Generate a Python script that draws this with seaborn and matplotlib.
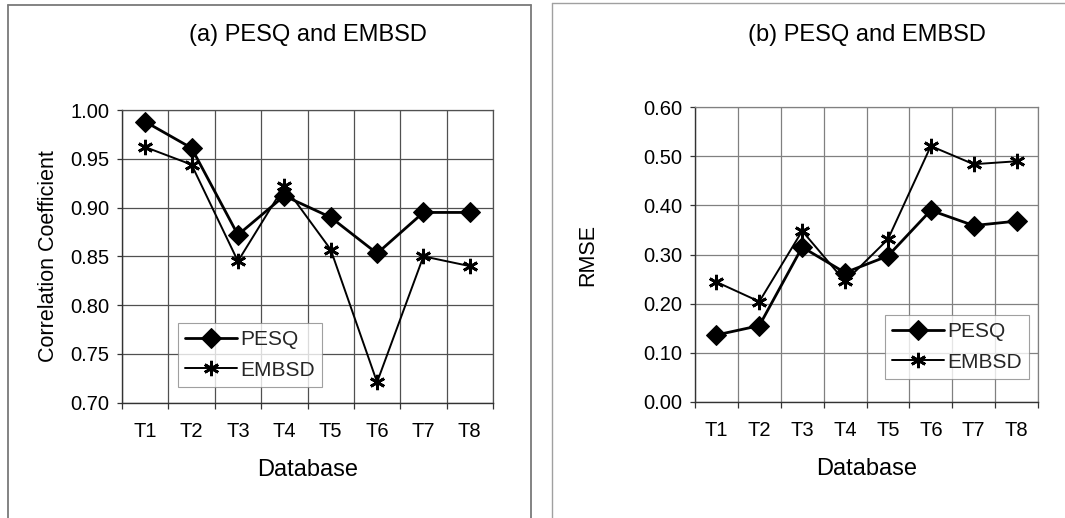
import matplotlib
matplotlib.use("Agg")
import matplotlib.pyplot as plt
import seaborn as sns
import pandas as pd
import numpy as np
from matplotlib.lines import Line2D

categories = ["T1", "T2", "T3", "T4", "T5", "T6", "T7", "T8"]
corr_pesq = [0.988, 0.961, 0.872, 0.912, 0.890, 0.853, 0.895, 0.895]
corr_embsd = [0.962, 0.944, 0.845, 0.922, 0.857, 0.721, 0.850, 0.840]
rmse_pesq = [0.136, 0.155, 0.315, 0.263, 0.297, 0.390, 0.359, 0.368]
rmse_embsd = [0.244, 0.204, 0.348, 0.245, 0.331, 0.521, 0.484, 0.490]
corr_ticks = [0.70, 0.75, 0.80, 0.85, 0.90, 0.95, 1.00]
rmse_ticks = [0.00, 0.10, 0.20, 0.30, 0.40, 0.50, 0.60]

sns.set_theme(style="white")
plt.rcParams['font.family'] = ['Liberation Sans', 'DejaVu Sans']

W, H = 1065, 518
fig = plt.figure(figsize=(W / 100, H / 100), dpi=100)
fig.patch.set_facecolor("white")

def fline(x0, y0, x1, y1, color, lw):
    fig.add_artist(Line2D([x0 / W, x1 / W], [1 - y0 / H, 1 - y1 / H],
                          transform=fig.transFigure, color=color, lw=lw))

# panel borders
fline(8, 5, 531, 5, "#7a7a7a", 1.3)
fline(8, 5, 8, H + 2, "#7a7a7a", 1.3)
fline(531, 5, 531, H + 2, "#7a7a7a", 1.3)
fline(552, 3, W, 3, "#a0a0a0", 1.0)
fline(552, 3, 552, H + 2, "#a0a0a0", 1.0)

ax1 = fig.add_axes([122 / W, 1 - 402.7 / H, 371 / W, (402.7 - 110) / H])
ax2 = fig.add_axes([695 / W, 1 - 401.7 / H, 343 / W, (401.7 - 107.3) / H])

star = (6, 2, 0)
TITLE_BASELINE_PX = 41  # from top of figure

def draw(ax, pesq, embsd, yticks, ylabel, title, legend_loc, gridcolor, ylabelpad):
    df = pd.DataFrame({"Database": categories * 2,
                       "value": list(pesq) + list(embsd),
                       "series": ["PESQ"] * len(categories) + ["EMBSD"] * len(categories)})
    sns.lineplot(data=df[df.series == "PESQ"], x="Database", y="value", ax=ax,
                 color="black", lw=2.0, marker="D", markersize=10,
                 markeredgecolor="black", markerfacecolor="black", label="PESQ", sort=False)
    sns.lineplot(data=df[df.series == "EMBSD"], x="Database", y="value", ax=ax,
                 color="black", lw=1.4, marker=star, markersize=11,
                 markeredgecolor="black", markeredgewidth=2.0, label="EMBSD", sort=False)
    n = len(categories)
    ax.set_xlim(-0.5, n - 0.5)
    ax.set_ylim(yticks[0], yticks[-1])
    ax.set_yticks(yticks)
    ax.set_yticklabels([f"{t:.2f}" for t in yticks])
    ax.set_xticks(range(n))
    ax.set_xticklabels(categories)
    ax.set_xticks(np.arange(-0.5, n, 1.0), minor=True)
    ax.grid(True, which="major", axis="y", color=gridcolor, lw=0.9)
    ax.grid(True, which="minor", axis="x", color=gridcolor, lw=0.9)
    ax.grid(False, which="major", axis="x")
    ax.tick_params(axis="x", which="major", length=0, pad=14, labelsize=14.5, colors="black")
    ax.tick_params(axis="x", which="minor", length=4, width=0.9, direction="out", bottom=True, color="#333333")
    ax.tick_params(axis="y", which="major", length=3.3, width=0.9, direction="out", left=True,
                   labelsize=14.5, pad=6, colors="black")
    ax.tick_params(axis="y", which="major", color="#333333")
    for s in ["top", "right"]:
        ax.spines[s].set_color(gridcolor)
        ax.spines[s].set_linewidth(0.9)
    for s in ["left", "bottom"]:
        ax.spines[s].set_color("#333333")
        ax.spines[s].set_linewidth(1.0)
    ax.set_xlabel("Database", fontsize=17, labelpad=13, color="black")
    ax.set_ylabel(ylabel, fontsize=15.5, labelpad=ylabelpad, color="black")
    pos = ax.get_position()
    top_px = pos.y1 * H
    base_px = H - TITLE_BASELINE_PX
    ax.set_title(title, fontsize=17, color="black", pad=0,
                 y=1 + (base_px - top_px) / (pos.height * H))
    leg = ax.legend(loc="lower left", bbox_to_anchor=legend_loc, fontsize=15, frameon=True,
                    fancybox=False, edgecolor="#888888", handlelength=2.5, handletextpad=0.15,
                    borderpad=0.35, labelspacing=0.55, borderaxespad=0)
    leg.get_frame().set_linewidth(0.8)

draw(ax1, corr_pesq, corr_embsd, corr_ticks, "Correlation Coefficient",
     "(a) PESQ and EMBSD", (0.151, 0.054), "#505050", 8)
draw(ax2, rmse_pesq, rmse_embsd, rmse_ticks, "RMSE",
     "(b) PESQ and EMBSD", (0.554, 0.077), "#808080", 32)

fig.savefig("out.png", dpi=100, facecolor="white")
